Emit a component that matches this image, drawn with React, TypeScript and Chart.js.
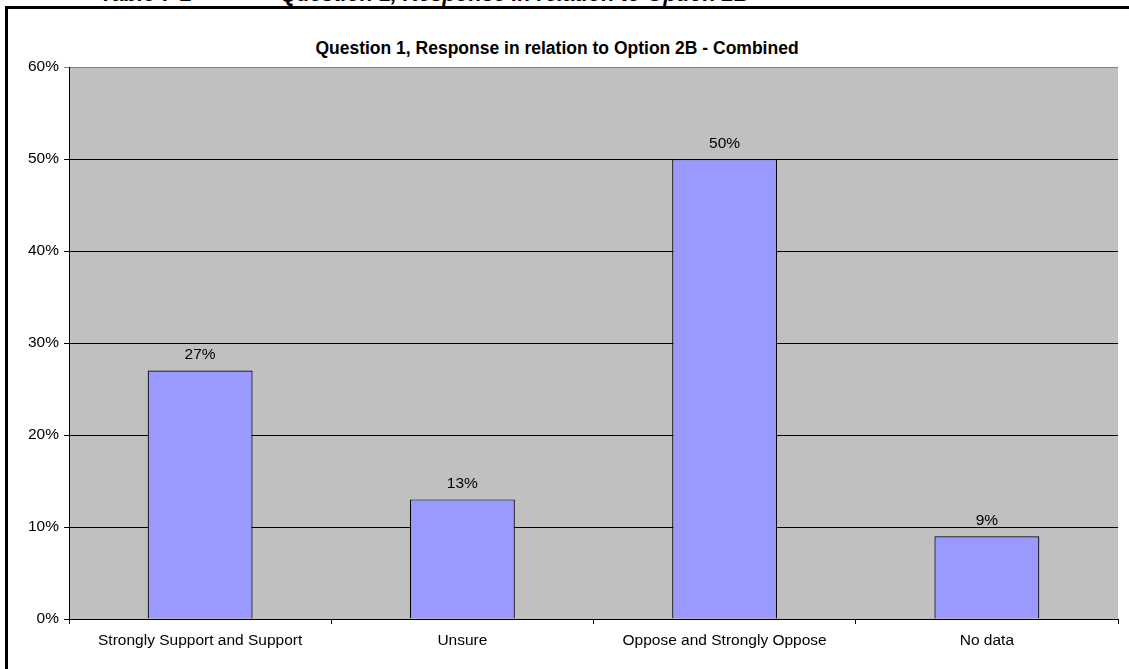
import React, { useEffect, useRef } from "react";
import { Chart, registerables } from "chart.js";

Chart.register(...registerables);

const categories = [
  "Strongly Support and Support",
  "Unsure",
  "Oppose and Strongly Oppose",
  "No data",
];
const responseValues = [27, 13, 50, 9];
const yTickMax = 60;
const yTickStep = 10;
const chartTitle = "Question 1, Response in relation to Option 2B - Combined";
const captionLeft = "Table 7-2";
const captionRight = "Question 1, Response in relation to Option 2B";

const FONT = "Arial, 'Liberation Sans', sans-serif";

export default function App() {
  const canvasRef = useRef<HTMLCanvasElement | null>(null);

  useEffect(() => {
    const canvas = canvasRef.current;
    if (!canvas) return;

    const plotBg = {
      id: "plotBg",
      beforeDraw(chart: any) {
        const { ctx, chartArea } = chart;
        ctx.save();
        ctx.fillStyle = "#C0C0C0";
        ctx.fillRect(
          chartArea.left,
          chartArea.top,
          chartArea.right - chartArea.left,
          chartArea.bottom - chartArea.top
        );
        ctx.restore();
      },
    };

    const dataLabels = {
      id: "dataLabels",
      afterDatasetsDraw(chart: any) {
        const { ctx } = chart;
        const meta = chart.getDatasetMeta(0);
        ctx.save();
        ctx.font = `15.5px ${FONT}`;
        ctx.fillStyle = "#000";
        ctx.textAlign = "center";
        ctx.textBaseline = "middle";
        meta.data.forEach((el: any, i: number) => {
          const v = chart.data.datasets[0].data[i];
          ctx.fillText(`${v}%`, el.x, el.y - 15.5);
        });
        ctx.restore();
      },
    };

    const chart = new Chart(canvas, {
      type: "bar",
      data: {
        labels: categories,
        datasets: [
          {
            data: responseValues,
            backgroundColor: "#9999FF",
            borderColor: "#000000",
            borderWidth: 1.2,
            barPercentage: 0.4,
            categoryPercentage: 1,
          },
        ],
      },
      options: {
        responsive: false,
        animation: false,
        devicePixelRatio: 1,
        layout: { padding: { left: 0, right: 11, top: 67, bottom: 0 } },
        plugins: {
          legend: { display: false },
          title: { display: false },
          tooltip: { enabled: false },
        },
        scales: {
          x: {
            afterFit(scale: any) {
              scale.height = 50;
            },
            grid: {
              offset: true,
              drawOnChartArea: false,
              drawTicks: true,
              tickLength: 5,
              color: "#000",
            },
            border: { display: true, color: "#000", width: 1 },
            ticks: {
              color: "#000",
              font: { family: FONT, size: 15.5 },
              padding: 7,
              maxRotation: 0,
            },
          },
          y: {
            min: 0,
            max: yTickMax,
            afterFit(scale: any) {
              scale.width = 69;
            },
            grid: {
              color: (ctx: any) =>
                ctx.tick && ctx.tick.value === yTickMax ? "#808080" : "#000",
              drawTicks: true,
              tickLength: 5,
              lineWidth: 1,
            },
            border: { display: true, color: "#000", width: 1 },
            ticks: {
              stepSize: yTickStep,
              color: "#000",
              font: { family: FONT, size: 15.5 },
              padding: 5,
              callback: (v: any) => `${v}%`,
            },
          },
        },
      },
      plugins: [plotBg, dataLabels],
    });

    return () => chart.destroy();
  }, []);

  const captionStyle: React.CSSProperties = {
    position: "absolute",
    top: -16,
    fontSize: 21.5,
    lineHeight: "21.5px",
    fontWeight: "bold",
    fontStyle: "italic",
    whiteSpace: "nowrap",
  };

  return (
    <div
      style={{
        position: "fixed",
        left: 0,
        top: 0,
        width: 1129,
        height: 669,
        overflow: "hidden",
        background: "#fff",
        fontFamily: FONT,
      }}
    >
      <div style={{ ...captionStyle, left: 100 }}>{captionLeft}</div>
      <div style={{ ...captionStyle, left: 280 }}>{captionRight}</div>
      <div
        style={{
          position: "absolute",
          left: 5,
          top: 6,
          width: 1200,
          height: 800,
          border: "3px solid #000",
        }}
      />
      <div
        style={{
          position: "absolute",
          left: 0,
          width: 1114,
          top: 38,
          textAlign: "center",
          fontSize: 17.5,
          lineHeight: "20px",
          fontWeight: "bold",
          whiteSpace: "nowrap",
        }}
      >
        {chartTitle}
      </div>
      <canvas
        ref={canvasRef}
        width={1129}
        height={669}
        style={{ position: "absolute", left: 0, top: 0, width: 1129, height: 669 }}
      />
    </div>
  );
}
